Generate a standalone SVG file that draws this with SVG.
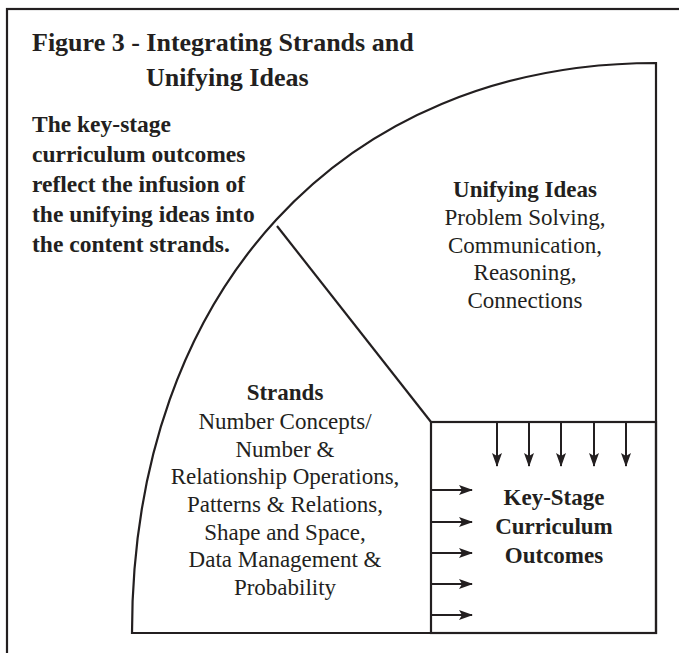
<svg xmlns="http://www.w3.org/2000/svg" width="679" height="653" viewBox="0 0 679 653">
<style>
.ln{fill:none;stroke:#231f20;stroke-width:2.2}
.t{font-family:"Liberation Serif","Times New Roman",serif;fill:#231f20}
.title{font-size:26px;font-weight:bold}
.note{font-size:23.5px;font-weight:bold}
.hd{font-size:23px;font-weight:bold;text-anchor:middle}
.bd{font-size:23px;text-anchor:middle}
.ar{fill:none;stroke:#231f20;stroke-width:2;marker-end:url(#ah)}
</style>
<defs>
<marker id="ah" viewBox="0 0 14 10" refX="13" refY="5" markerWidth="14" markerHeight="10" markerUnits="userSpaceOnUse" orient="auto">
<path d="M0,0 L14,5 L0,10 L3,5 Z" fill="#231f20"/>
</marker>
</defs>
<rect width="679" height="653" fill="#ffffff"/>
<g id="frame"><rect class="ln" x="7" y="9" width="700" height="700" stroke-width="2.5"/></g>
<g id="title">
<text class="t title" x="32" y="51">Figure 3 - Integrating Strands and</text>
<text class="t title" x="146" y="86">Unifying Ideas</text>
</g>
<g id="note">
<text class="t note" x="32" y="132">The key-stage</text>
<text class="t note" x="32" y="162">curriculum outcomes</text>
<text class="t note" x="32" y="192">reflect the infusion of</text>
<text class="t note" x="32" y="222">the unifying ideas into</text>
<text class="t note" x="32" y="252">the content strands.</text>
</g>
<g id="quadrant">
<path class="ln" d="M132,633 C132,291 342,63 656,63 L656,633 Z"/>
<line class="ln" x1="277" y1="226" x2="431" y2="422"/>
</g>
<g id="unifying-ideas">
<text class="t hd" x="525" y="197">Unifying Ideas</text>
<text class="t bd" x="525" y="225">Problem Solving,</text>
<text class="t bd" x="525" y="253">Communication,</text>
<text class="t bd" x="525" y="280">Reasoning,</text>
<text class="t bd" x="525" y="308">Connections</text>
</g>
<g id="strands">
<text class="t hd" x="285" y="400">Strands</text>
<text class="t bd" x="285" y="429">Number Concepts/</text>
<text class="t bd" x="285" y="457">Number &amp;</text>
<text class="t bd" x="285" y="484">Relationship Operations,</text>
<text class="t bd" x="285" y="512">Patterns &amp; Relations,</text>
<text class="t bd" x="285" y="540">Shape and Space,</text>
<text class="t bd" x="285" y="567">Data Management &amp;</text>
<text class="t bd" x="285" y="595">Probability</text>
</g>
<g id="outcomes">
<rect class="ln" x="431" y="422" width="225" height="211"/>
<text class="t hd" x="554" y="505">Key-Stage</text>
<text class="t hd" x="554" y="534">Curriculum</text>
<text class="t hd" x="554" y="563">Outcomes</text>
</g>
<g id="connectors">
<line class="ar" x1="497" y1="422" x2="497" y2="466"/>
<line class="ar" x1="529" y1="422" x2="529" y2="466"/>
<line class="ar" x1="561" y1="422" x2="561" y2="466"/>
<line class="ar" x1="594" y1="422" x2="594" y2="466"/>
<line class="ar" x1="626" y1="422" x2="626" y2="466"/>
<line class="ar" x1="431" y1="490" x2="472" y2="490"/>
<line class="ar" x1="431" y1="522" x2="472" y2="522"/>
<line class="ar" x1="431" y1="553" x2="472" y2="553"/>
<line class="ar" x1="431" y1="584" x2="472" y2="584"/>
<line class="ar" x1="431" y1="615" x2="472" y2="615"/>
</g>
</svg>
